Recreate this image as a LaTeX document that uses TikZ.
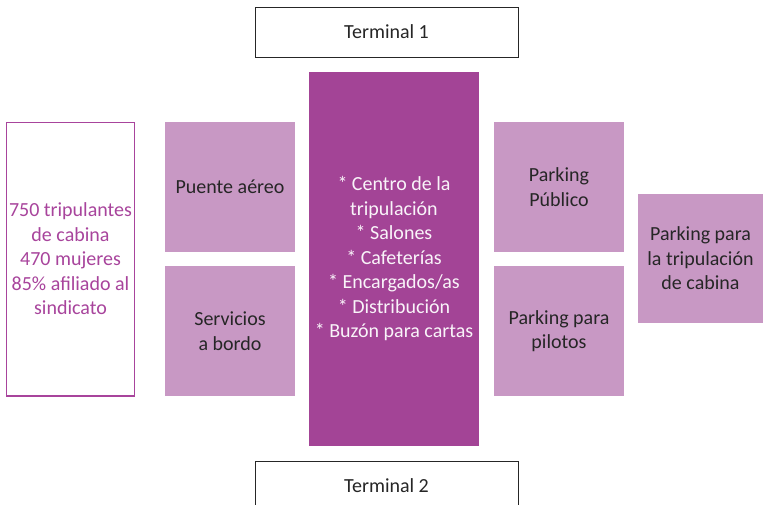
\documentclass[tikz,border=0pt]{standalone}
\usepackage{fontspec}
\setmainfont{Carlito}
\definecolor{lightp}{HTML}{C898C4}
\definecolor{darkp}{HTML}{A34496}
\definecolor{txtp}{HTML}{A8449C}
\definecolor{txtd}{HTML}{262626}
\tikzset{
  lbox/.style={fill=lightp, draw=none, text=txtd, align=center, inner sep=0pt},
  tbox/.style={draw=txtd, line width=0.8pt, fill=white, text=txtd, inner sep=0pt},
  bigfont/.style={font=\fontsize{20}{24.5}\selectfont}
}
\begin{document}
\begin{tikzpicture}[x=1pt,y=-1pt,bigfont]
\useasboundingbox (0,0) rectangle (763,504);
\clip (0,0) rectangle (763,504);
% terminals
\draw[tbox] (255,7) rectangle (518,57);
\node[text=txtd] (t1) at (386.5,32) {Terminal 1};
\draw[tbox] (255,461) rectangle (518,520);
\node[text=txtd] (t2) at (386.5,486) {Terminal 2};
% centre
\fill[darkp] (309,72) rectangle (479,446);
\node[text=white!94!darkp, align=center] (c) at (394,259) {* Centro de la\\tripulación\\* Salones\\* Cafeterías\\* Encargados/as\\* Distribución\\* Buzón para cartas};
% left info
\draw[draw=txtp, line width=1.5pt, fill=white] (6.5,122.5) rectangle (134.5,396);
\node[text=txtp, align=center] (info) at (70.5,259) {750 tripulantes\\de cabina\\470 mujeres\\85\% afiliado al\\sindicato};
% light boxes
\fill[lightp] (165,122) rectangle (295,252);
\node[text=txtd, align=center] (pa) at (230,187) {Puente aéreo};
\fill[lightp] (165,266) rectangle (295,396);
\node[text=txtd, align=center] (sb) at (230,331) {Servicios\\a bordo};
\fill[lightp] (494,122) rectangle (624,252);
\node[text=txtd, align=center] (pp) at (559,187) {Parking\\Público};
\fill[lightp] (494,266) rectangle (624,396);
\node[text=txtd, align=center] (pil) at (559,331) {Parking para\\pilotos};
\fill[lightp] (638,194) rectangle (763,323);
\node[text=txtd, align=center] (ptc) at (700.5,258.5) {Parking para\\la tripulación\\de cabina};
\end{tikzpicture}
\end{document}
